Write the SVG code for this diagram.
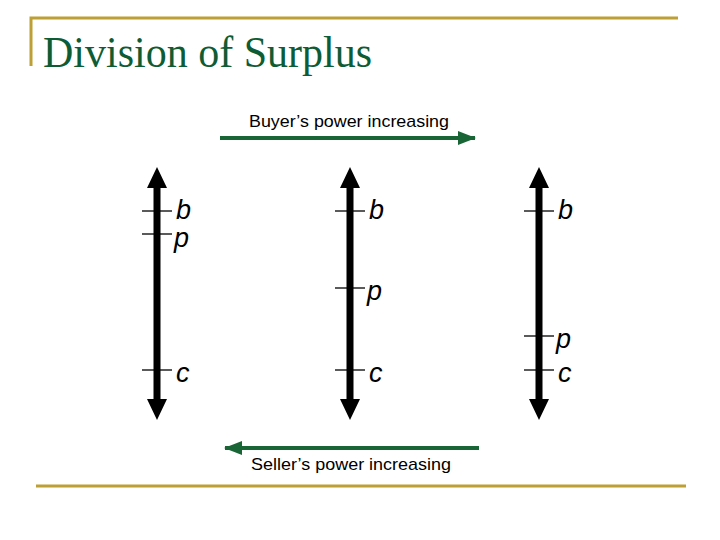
<svg xmlns="http://www.w3.org/2000/svg" width="720" height="540" viewBox="0 0 720 540">
<style>
.gold{stroke:#BD9F35;stroke-width:3;fill:none}
.title{font-family:"Liberation Serif",serif;font-size:44px;fill:#0E5C34}
.cap{font-family:"Liberation Sans",Arial,sans-serif;font-size:17px;fill:#000}
.lbl{font-family:"Liberation Sans",Arial,sans-serif;font-size:27px;font-style:italic;fill:#000}
.axis{stroke:#000;stroke-width:7;fill:none}
.tick{stroke:#000;stroke-width:1.3}
.garrow{stroke:#1A6536;stroke-width:4;fill:none}
</style>
<defs>
<marker id="gh" markerUnits="userSpaceOnUse" markerWidth="18" markerHeight="14" refX="17" refY="7" orient="auto" viewBox="0 0 18 14">
<path d="M0,0 L18,7 L0,14 Z" fill="#1A6536"/>
</marker>
</defs>
<g id="frame">
<path class="gold" d="M31,66 V18 H678"/>
<path class="gold" d="M36,486 H686"/>
</g>
<text class="title" x="43" y="67" textLength="329" lengthAdjust="spacingAndGlyphs">Division of Surplus</text>
<g id="connectors">
<line class="garrow" x1="220" y1="138" x2="475" y2="138" marker-end="url(#gh)"/>
<line class="garrow" x1="479" y1="448" x2="225" y2="448" marker-end="url(#gh)"/>
</g>
<text class="cap" x="249" y="127" textLength="200" lengthAdjust="spacingAndGlyphs">Buyer’s power increasing</text>
<text class="cap" x="251" y="470" textLength="200" lengthAdjust="spacingAndGlyphs">Seller’s power increasing</text>
<g id="axis1">
<line class="axis" x1="157" y1="186" x2="157" y2="400"/>
<path d="M157,167 L147,188 L167,188 Z M157,420 L147,399 L167,399 Z"/>
<line class="tick" x1="142" y1="211" x2="172" y2="211"/>
<line class="tick" x1="142" y1="234" x2="172" y2="234"/>
<line class="tick" x1="142" y1="370" x2="172" y2="370"/>
<text class="lbl" x="176" y="219">b</text>
<text class="lbl" x="174" y="247">p</text>
<text class="lbl" x="176" y="382">c</text>
</g>
<g id="axis2">
<line class="axis" x1="350" y1="186" x2="350" y2="400"/>
<path d="M350,167 L340,188 L360,188 Z M350,420 L340,399 L360,399 Z"/>
<line class="tick" x1="335" y1="211" x2="365" y2="211"/>
<line class="tick" x1="335" y1="288" x2="365" y2="288"/>
<line class="tick" x1="335" y1="370" x2="365" y2="370"/>
<text class="lbl" x="369" y="219">b</text>
<text class="lbl" x="367" y="300">p</text>
<text class="lbl" x="369" y="382">c</text>
</g>
<g id="axis3">
<line class="axis" x1="539" y1="186" x2="539" y2="400"/>
<path d="M539,167 L529,188 L549,188 Z M539,420 L529,399 L549,399 Z"/>
<line class="tick" x1="524" y1="211" x2="554" y2="211"/>
<line class="tick" x1="524" y1="336" x2="554" y2="336"/>
<line class="tick" x1="524" y1="370" x2="554" y2="370"/>
<text class="lbl" x="558" y="219">b</text>
<text class="lbl" x="556" y="348">p</text>
<text class="lbl" x="558" y="382">c</text>
</g>
</svg>
